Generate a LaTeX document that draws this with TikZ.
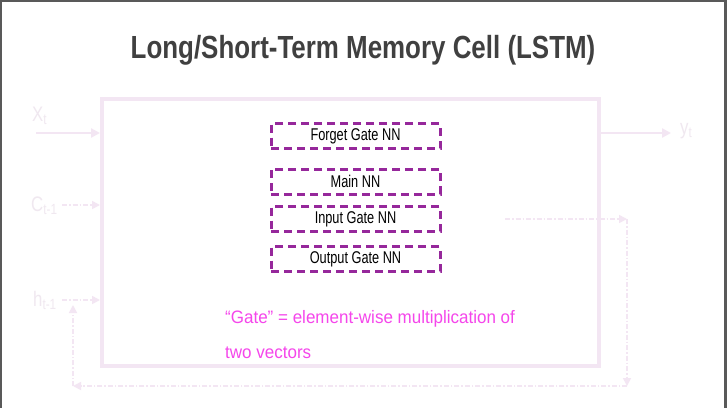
\documentclass[tikz,border=0pt]{standalone}
\usepackage{fontspec}
\setmainfont{Liberation Sans}
\usetikzlibrary{arrows.meta}
\definecolor{framegray}{RGB}{89,89,89}
\definecolor{titlegray}{RGB}{64,64,64}
\definecolor{faint}{RGB}{243,230,243}
\definecolor{faintlbl}{RGB}{240,232,240}
\definecolor{gatepurple}{RGB}{150,40,155}
\definecolor{notepink}{RGB}{245,70,235}
\tikzset{
  gatebox/.style={draw=gatepurple, line width=3pt, dash pattern=on 8pt off 5pt,
    minimum width=169pt, minimum height=25pt, inner sep=0pt,
    font=\fontsize{17}{17}\selectfont},
  solidarr/.style={draw=faint, line width=2.5pt, -{Triangle[length=9pt,width=9pt]}},
  dotarr/.style={draw=faint, line width=1.6pt, dash pattern=on 5pt off 2pt on 1.5pt off 2pt,
    -{Triangle[length=8pt,width=8pt]}},
  lbl/.style={text=faintlbl, inner sep=0pt, font=\fontsize{21}{21}\selectfont},
  note/.style={text=notepink, anchor=west, inner sep=0pt, font=\fontsize{18}{18}\selectfont}
}
\begin{document}
\begin{tikzpicture}[x=1pt,y=-1pt]
\useasboundingbox (0,0) rectangle (727,408);
\fill[white] (0,0) rectangle (727,408);
% frame
\fill[framegray] (0,0) rectangle (727,2);
\fill[framegray] (0,0) rectangle (1.5,408);
\fill[framegray] (724,0) rectangle (727,408);
% title
\node[text=titlegray, font=\bfseries\fontsize{32}{32}\selectfont] (title) at (363,50)
  {\scalebox{0.81}[1]{Long/Short-Term Memory Cell (LSTM)}};
% main cell
\node[draw=faint, line width=4pt, minimum width=497pt, minimum height=267pt, inner sep=0pt]
  (cell) at (350.5,232.5) {};
% gate boxes
\node[gatebox] (forget) at (355.5,136) {\scalebox{0.75}[1]{Forget Gate NN}};
\node[gatebox] (main) at (355.5,181.5) {\scalebox{0.75}[1]{Main NN}};
\node[gatebox] (input) at (355.5,219) {\scalebox{0.75}[1]{Input Gate NN}};
\node[gatebox] (output) at (355.5,259) {\scalebox{0.75}[1]{Output Gate NN}};
% labels
\node[lbl, anchor=west] (xt) at (32,116) {\scalebox{0.8}[1]{X\textsubscript{t}}};
\node[lbl, anchor=west] (ct) at (31,206) {\scalebox{0.8}[1]{C\textsubscript{t-1}}};
\node[lbl, anchor=west] (ht) at (33,300) {\scalebox{0.8}[1]{h\textsubscript{t-1}}};
\node[lbl, anchor=west] (yt) at (680,131) {\scalebox{0.8}[1]{y\textsubscript{t}}};
% inputs / output
\coordinate (xs) at (36,133);
\coordinate (xe) at (100,133);
\draw[solidarr] (xs) -- (xe);
\coordinate (cs) at (62,205);
\coordinate (ce) at (100,205);
\draw[dotarr] (cs) -- (ce);
\coordinate (hs) at (62,300);
\coordinate (he) at (100,300);
\draw[dotarr] (hs) -- (he);
\coordinate (ys) at (601,133);
\coordinate (ye) at (671,133);
\draw[solidarr] (ys) -- (ye);
% feedback loop
\coordinate (f1) at (505,219);
\coordinate (f2) at (627,219);
\coordinate (f3) at (627,386);
\coordinate (f4) at (73,386);
\coordinate (f5) at (73,305);
\draw[dotarr] (f1) -- (f2);
\draw[dotarr] (f2) -- (f3);
\draw[dotarr] (f3) -- (f4);
\draw[dotarr] (f4) -- (f5);
% note
\node[note] (note1) at (225,319)
  {\scalebox{0.945}[1]{“Gate” = element-wise multiplication of}};
\node[note] (note2) at (225,353)
  {\scalebox{0.945}[1]{two vectors}};
\end{tikzpicture}
\end{document}
